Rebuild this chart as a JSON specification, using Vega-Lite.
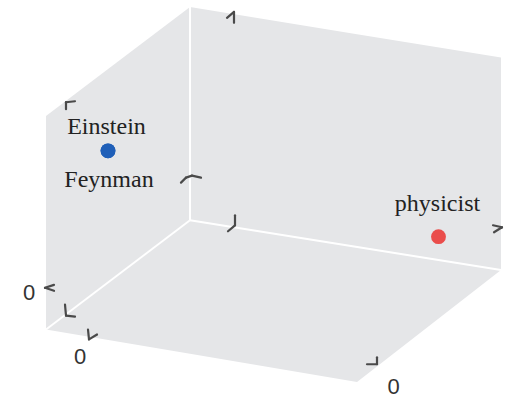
{
  "$schema": "https://vega.github.io/schema/vega-lite/v6.json",
  "width": 506,
  "height": 398,
  "padding": 0,
  "autosize": {"type": "fit", "contains": "padding"},
  "background": "white",
  "config": {"view": {"stroke": null}},
  "datasets": {
    "panes": [
      {"h": 46, "top": 117, "bottom": 332},
      {"h": 190, "top": 7, "bottom": 356.5},
      {"h": 357, "top": 34.4, "bottom": 385},
      {"h": 501, "top": 58, "bottom": 272}
    ],
    "edges": [
      {"h": 190, "v": 7, "h2": 190, "v2": 222},
      {"h": 190, "v": 222, "h2": 46, "v2": 332},
      {"h": 190, "v": 222, "h2": 501, "v2": 272}
    ],
    "ticks": [
      {"h": 66, "v": 103, "h2": 75, "v2": 102},
      {"h": 66, "v": 103, "h2": 66, "v2": 110},
      {"h": 234, "v": 12, "h2": 234, "v2": 23},
      {"h": 227, "v": 18, "h2": 234, "v2": 12},
      {"h": 181, "v": 184, "h2": 186, "v2": 179},
      {"h": 186, "v": 179, "h2": 192, "v2": 177},
      {"h": 192, "v": 177, "h2": 201, "v2": 179},
      {"h": 235, "v": 217, "h2": 235, "v2": 227},
      {"h": 235, "v": 227, "h2": 228, "v2": 233},
      {"h": 493, "v": 227, "h2": 502, "v2": 229},
      {"h": 502, "v": 229, "h2": 494, "v2": 234},
      {"h": 54, "v": 287, "h2": 45, "v2": 290},
      {"h": 45, "v": 290, "h2": 54, "v2": 293},
      {"h": 65, "v": 307, "h2": 66, "v2": 318},
      {"h": 66, "v": 318, "h2": 75, "v2": 319},
      {"h": 88, "v": 332, "h2": 89, "v2": 342},
      {"h": 89, "v": 342, "h2": 97, "v2": 337},
      {"h": 367, "v": 367, "h2": 377, "v2": 367},
      {"h": 377, "v": 367, "h2": 377, "v2": 360}
    ],
    "tickLabels": [
      {"label": "0", "h": 29, "v": 302},
      {"label": "0", "h": 80, "v": 367},
      {"label": "0", "h": 393.5, "v": 397}
    ],
    "words": [
      {"word": "Einstein", "group": "scientist", "h": 108, "v": 152},
      {"word": "Feynman", "group": "scientist", "h": 108, "v": 152},
      {"word": "physicist", "group": "physicist", "h": 438.5, "v": 238.5}
    ]
  },
  "encoding": {
    "x": {"field": "h", "type": "quantitative", "scale": {"domain": [0, 506], "nice": false, "zero": false}, "axis": null},
    "y": {"field": "v", "type": "quantitative", "scale": {"domain": [0, 398], "nice": false, "zero": false, "reverse": true}, "axis": null}
  },
  "layer": [
    {
      "data": {"name": "panes"},
      "mark": {"type": "area", "orient": "vertical", "color": "#e5e6e8", "interpolate": "linear"},
      "encoding": {
        "y": {"field": "top", "type": "quantitative", "scale": {"domain": [0, 398], "nice": false, "zero": false, "reverse": true}, "axis": null},
        "y2": {"field": "bottom"}
      }
    },
    {
      "data": {"name": "edges"},
      "mark": {"type": "rule", "color": "white", "strokeWidth": 2},
      "encoding": {"x2": {"field": "h2"}, "y2": {"field": "v2"}}
    },
    {
      "data": {"name": "ticks"},
      "mark": {"type": "rule", "color": "#4a4a4a", "strokeWidth": 2.2, "strokeCap": "round"},
      "encoding": {"x2": {"field": "h2"}, "y2": {"field": "v2"}}
    },
    {
      "data": {"name": "tickLabels"},
      "mark": {"type": "text", "font": "Liberation Sans", "fontSize": 22, "color": "#333333", "align": "center", "baseline": "alphabetic"},
      "encoding": {"text": {"field": "label"}}
    },
    {
      "data": {"name": "words"},
      "mark": {"type": "circle", "size": 220, "opacity": 1},
      "encoding": {
        "color": {"field": "group", "type": "nominal", "scale": {"domain": ["scientist", "physicist"], "range": ["#1f5fb8", "#ea4d4b"]}, "legend": null}
      }
    },
    {
      "data": {"name": "words"},
      "transform": [{"filter": "datum.word === 'Einstein'"}],
      "mark": {"type": "text", "font": "Liberation Serif", "fontSize": 24, "color": "#222222", "align": "center", "baseline": "alphabetic", "dx": -1.5, "dy": -17},
      "encoding": {"text": {"field": "word"}}
    },
    {
      "data": {"name": "words"},
      "transform": [{"filter": "datum.word === 'Feynman'"}],
      "mark": {"type": "text", "font": "Liberation Serif", "fontSize": 24, "color": "#222222", "align": "center", "baseline": "alphabetic", "dx": 1, "dy": 36},
      "encoding": {"text": {"field": "word"}}
    },
    {
      "data": {"name": "words"},
      "transform": [{"filter": "datum.word === 'physicist'"}],
      "mark": {"type": "text", "font": "Liberation Serif", "fontSize": 24, "color": "#222222", "align": "center", "baseline": "alphabetic", "dx": -1, "dy": -25.5},
      "encoding": {"text": {"field": "word"}}
    }
  ]
}
